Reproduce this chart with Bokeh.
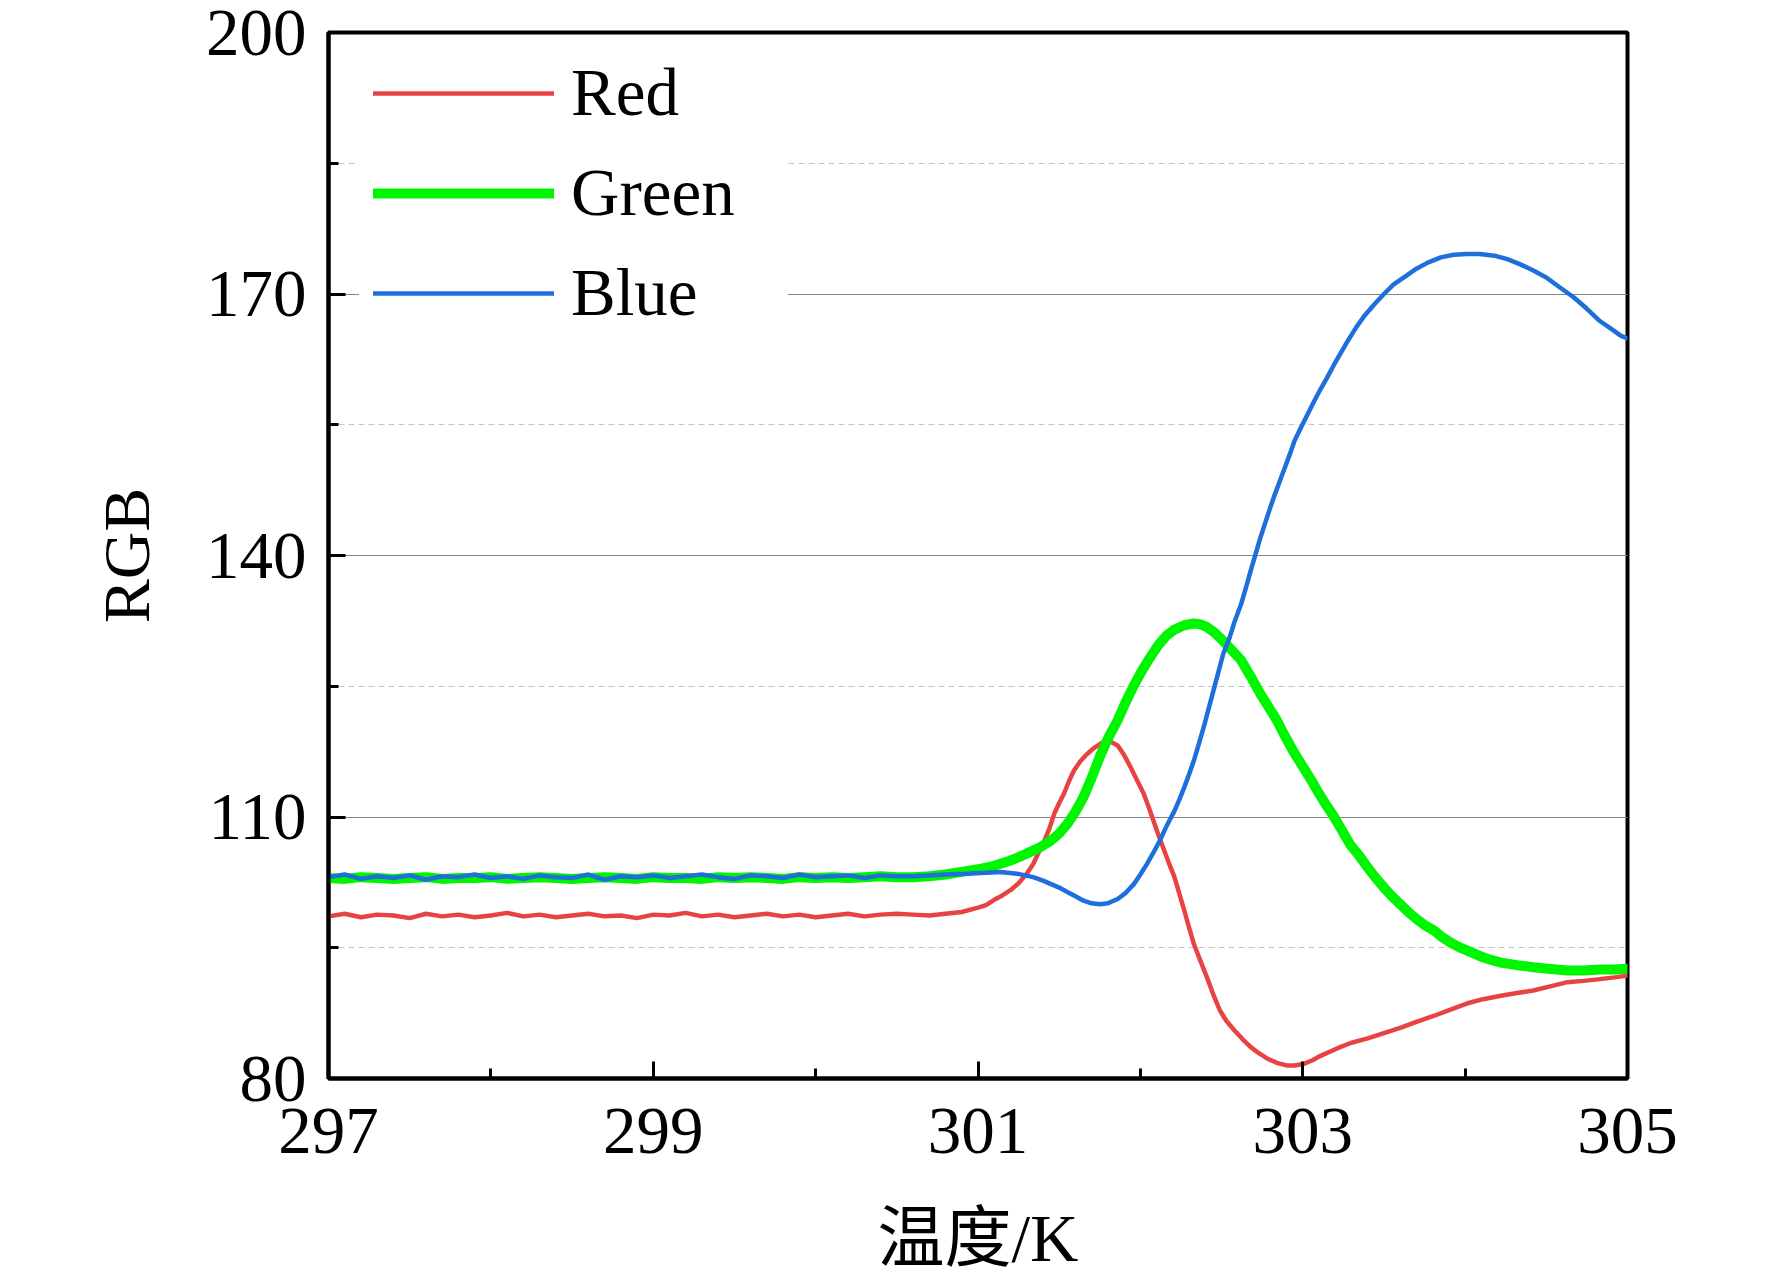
from bokeh.plotting import figure
from bokeh.models import FixedTicker, Range1d
from bokeh.embed import file_html
from bokeh.resources import INLINE

# ---------------- data ----------------
base_x = [297.0, 297.1, 297.2, 297.3, 297.4, 297.5, 297.6, 297.7, 297.8, 297.9,
          298.0, 298.1, 298.2, 298.3, 298.4, 298.5, 298.6, 298.7, 298.8, 298.9,
          299.0, 299.1, 299.2, 299.3, 299.4, 299.5, 299.6, 299.7, 299.8, 299.9,
          300.0, 300.1, 300.2, 300.3, 300.4, 300.5]

red_x = base_x + [300.6, 300.7, 300.8, 300.9, 301.0, 301.05, 301.1, 301.15, 301.2, 301.25,
                  301.3, 301.34, 301.37, 301.4, 301.44, 301.47, 301.5, 301.53, 301.56, 301.59,
                  301.63, 301.67, 301.72, 301.77, 301.82, 301.86, 301.9, 301.94, 301.98, 302.02,
                  302.05, 302.08, 302.11, 302.14, 302.18, 302.21, 302.24, 302.27, 302.3, 302.33,
                  302.37, 302.41, 302.45, 302.49, 302.53, 302.58, 302.63, 302.68, 302.73, 302.78,
                  302.84, 302.9, 302.95, 303.01, 303.06, 303.11, 303.17, 303.23, 303.3, 303.4,
                  303.5, 303.6, 303.7, 303.81, 303.91, 304.01, 304.11, 304.22, 304.32, 304.42,
                  304.53, 304.63, 304.73, 304.83, 304.92, 305.0]
red_y = [98.6, 98.9, 98.5, 98.8, 98.7, 98.4, 98.9, 98.6, 98.8, 98.5,
         98.7, 99.0, 98.6, 98.8, 98.5, 98.7, 98.9, 98.6, 98.7, 98.4,
         98.8, 98.7, 99.0, 98.6, 98.8, 98.5, 98.7, 98.9, 98.6, 98.8,
         98.5, 98.7, 98.9, 98.6, 98.8, 98.9] + \
        [98.8, 98.7, 98.9, 99.1, 99.6, 99.9, 100.5, 101.0, 101.6, 102.4,
         103.5, 104.6, 105.8, 106.9, 108.7, 110.4, 111.6, 112.7, 114.1, 115.3,
         116.4, 117.2, 118.0, 118.6, 118.6, 118.2, 117.1, 115.7, 114.2, 112.7,
         111.2, 109.6, 108.0, 106.5, 104.5, 103.1, 101.2, 99.3, 97.3, 95.4,
         93.5, 91.6, 89.6, 87.8, 86.6, 85.5, 84.5, 83.6, 82.9, 82.3,
         81.8, 81.5, 81.5, 81.7, 82.1, 82.6, 83.1, 83.6, 84.1, 84.6,
         85.2, 85.8, 86.5, 87.2, 87.9, 88.6, 89.1, 89.5, 89.8, 90.1,
         90.6, 91.05, 91.2, 91.4, 91.6, 91.8]

green_x = base_x + [300.6, 300.7, 300.8, 300.9, 301.0, 301.1, 301.2, 301.3, 301.38, 301.45,
                    301.5, 301.55, 301.6, 301.65, 301.7, 301.75, 301.8, 301.86, 301.91, 301.96,
                    302.01, 302.06, 302.11, 302.16, 302.21, 302.27, 302.33, 302.37, 302.41, 302.46,
                    302.51, 302.56, 302.62, 302.68, 302.74, 302.79, 302.84, 302.89, 302.94, 302.99,
                    303.05, 303.09, 303.14, 303.19, 303.24, 303.29, 303.35, 303.4, 303.45, 303.5,
                    303.55, 303.6, 303.65, 303.7, 303.75, 303.81, 303.86, 303.91, 303.96, 304.01,
                    304.06, 304.11, 304.16, 304.22, 304.32, 304.42, 304.53, 304.63, 304.73, 304.83,
                    304.92, 305.0]
green_y = [103.0, 102.9, 103.1, 103.0, 102.9, 103.0, 103.1, 102.9, 103.0, 103.0,
           103.1, 102.9, 103.0, 103.1, 103.0, 102.9, 103.0, 103.1, 103.0, 102.9,
           103.1, 103.0, 103.0, 102.9, 103.1, 103.0, 103.1, 103.0, 102.9, 103.1,
           103.0, 103.1, 103.0, 103.1, 103.2, 103.1] + \
          [103.1, 103.2, 103.4, 103.7, 104.0, 104.4, 105.0, 105.8, 106.5, 107.3,
           108.1, 109.2, 110.6, 112.3, 114.5, 116.9, 119.0, 121.1, 123.2, 125.1,
           126.8, 128.3, 129.7, 130.8, 131.5, 132.0, 132.2, 132.1, 131.8, 131.1,
           130.2, 129.2, 128.0, 126.1, 124.1, 122.6, 121.1, 119.3, 117.6, 116.1,
           114.3, 113.0, 111.5, 110.1, 108.5, 106.9, 105.5, 104.2, 103.0, 101.9,
           100.9, 100.0, 99.1, 98.3, 97.6, 96.97, 96.2, 95.6, 95.1, 94.7,
           94.3, 93.9, 93.6, 93.3, 93.0, 92.76, 92.55, 92.4, 92.4, 92.5,
           92.5, 92.6]

blue_x = base_x + [300.6, 300.7, 300.8, 300.93, 301.05, 301.14, 301.24, 301.34, 301.4, 301.45,
                   301.5, 301.55, 301.6, 301.65, 301.7, 301.75, 301.8, 301.86, 301.91, 301.96,
                   302.0, 302.04, 302.08, 302.12, 302.16, 302.21, 302.24, 302.27, 302.3, 302.33,
                   302.36, 302.39, 302.42, 302.45, 302.48, 302.51, 302.55, 302.58, 302.62, 302.65,
                   302.68, 302.71, 302.74, 302.77, 302.8, 302.83, 302.86, 302.89, 302.92, 302.95,
                   302.99, 303.03, 303.07, 303.11, 303.15, 303.19, 303.23, 303.28, 303.33, 303.38,
                   303.44, 303.5, 303.56, 303.63, 303.7, 303.77, 303.85, 303.93, 304.01, 304.09,
                   304.18, 304.26, 304.34, 304.42, 304.5, 304.58, 304.67, 304.75, 304.83, 304.9,
                   304.96, 305.0]
blue_y = [103.1, 103.4, 102.9, 103.2, 103.0, 103.3, 102.8, 103.2, 103.1, 103.4,
          103.0, 103.2, 102.9, 103.3, 103.1, 103.0, 103.4, 102.8, 103.2, 103.1,
          103.3, 103.0, 103.2, 103.4, 103.1, 102.9, 103.3, 103.2, 103.0, 103.4,
          103.1, 103.2, 103.3, 103.0, 103.3, 103.2] + \
         [103.2, 103.3, 103.4, 103.5, 103.6, 103.7, 103.5, 103.1, 102.7, 102.3,
          101.9, 101.4, 100.9, 100.4, 100.1, 100.0, 100.1, 100.6, 101.3, 102.3,
          103.4, 104.6, 105.9, 107.3, 108.9, 110.7, 112.0, 113.4, 114.9, 116.5,
          118.4, 120.3, 122.4, 124.5, 126.6, 128.7, 130.6, 132.4, 134.4, 136.3,
          138.3, 140.2, 142.1, 143.8, 145.5, 147.1, 148.6, 150.1, 151.6, 153.2,
          154.7, 156.2, 157.7, 159.1, 160.4, 161.8, 163.1, 164.7, 166.2, 167.5,
          168.8, 170.0, 171.1, 172.0, 172.9, 173.6, 174.2, 174.5, 174.6, 174.6,
          174.4, 174.0, 173.4, 172.7, 171.9, 170.8, 169.6, 168.3, 166.9, 166.0,
          165.2, 164.9]

x_ticks = [297, 299, 301, 303, 305]
x_minor = [298, 300, 302, 304]
y_ticks = [80, 110, 140, 170, 200]
y_minor = [95, 125, 155, 185]

RED = "#E84343"
GREEN = "#00F500"
BLUE = "#1E6EDC"
SERIF = "Liberation Serif"

p = figure(frame_width=1299, frame_height=1046, output_backend="svg", toolbar_location=None,
           x_range=Range1d(297, 305), y_range=Range1d(80, 200),
           min_border_left=328, min_border_right=137, min_border_top=32,
           min_border_bottom=150)
p.background_fill_color = "white"
p.border_fill_color = "white"
p.outline_line_color = "black"
p.outline_line_width = 4
p.outline_line_alpha = 1

p.line(red_x, red_y, line_color=RED, line_width=4.5, line_cap="round", legend_label="Red")
p.line(green_x, green_y, line_color=GREEN, line_width=10, line_cap="round", legend_label="Green")
p.line(blue_x, blue_y, line_color=BLUE, line_width=4.5, line_cap="round", legend_label="Blue")

xt = FixedTicker(ticks=x_ticks, minor_ticks=x_minor)
yt = FixedTicker(ticks=y_ticks, minor_ticks=y_minor)
p.xaxis[0].ticker = xt
p.yaxis[0].ticker = yt
p.xgrid.grid_line_color = None
p.ygrid.ticker = yt
p.ygrid.grid_line_color = "#858585"
p.ygrid.grid_line_width = 1.2
p.ygrid.minor_grid_line_color = "#c4c4c4"
p.ygrid.minor_grid_line_width = 1.2
p.ygrid.minor_grid_line_dash = "6 4"

for ax in (p.xaxis[0], p.yaxis[0]):
    ax.axis_line_color = "black"
    ax.axis_line_width = 4
    ax.major_tick_in = 17
    ax.major_tick_out = 0
    ax.minor_tick_in = 10
    ax.minor_tick_out = 0
    ax.major_tick_line_width = 3
    ax.minor_tick_line_width = 3
    ax.major_tick_line_color = "black"
    ax.minor_tick_line_color = "black"
    ax.major_label_text_font = SERIF
    ax.major_label_text_font_size = "67px"
    ax.major_label_text_color = "black"
    ax.axis_label_text_font_style = "normal"
    ax.axis_label_text_color = "black"

p.xaxis[0].major_label_standoff = 30
p.yaxis[0].major_label_standoff = 22
p.xaxis[0].axis_label = "温度/K"
p.xaxis[0].axis_label_text_font = "Liberation Serif, Noto Sans CJK SC"
p.xaxis[0].axis_label_text_font_size = "67px"
p.xaxis[0].axis_label_standoff = 45
p.yaxis[0].axis_label = "RGB"
p.yaxis[0].axis_label_text_font = SERIF
p.yaxis[0].axis_label_text_font_size = "66px"
p.yaxis[0].axis_label_standoff = 40

lg = p.legend[0]
lg.location = (31, 733)
lg.margin = 0
lg.padding = 14
lg.spacing = 23
lg.glyph_width = 181
lg.glyph_height = 26
lg.label_height = 26
lg.label_width = 203
lg.label_standoff = 17
lg.label_text_font = SERIF
lg.label_text_font_size = "67px"
lg.label_text_color = "black"
lg.background_fill_color = "white"
lg.background_fill_alpha = 1
lg.border_line_color = "white"
lg.border_line_alpha = 0

open("out.html", "w").write(file_html(p, INLINE))
